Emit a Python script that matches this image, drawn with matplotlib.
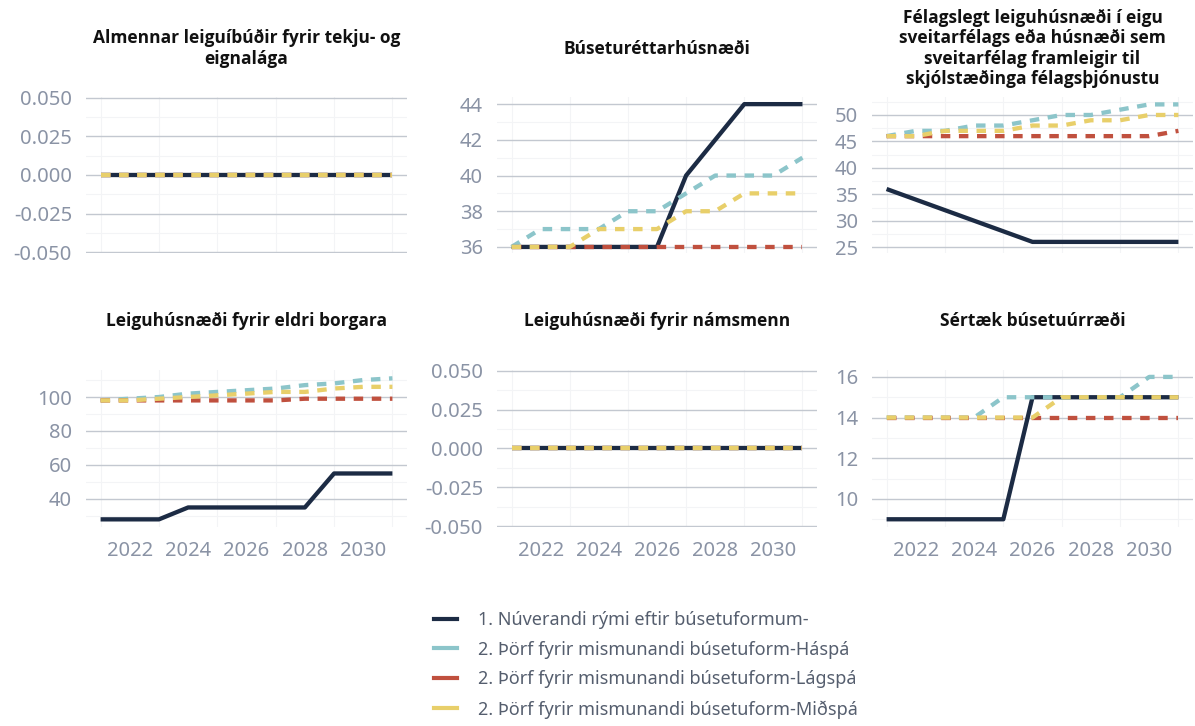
import matplotlib
matplotlib.use("Agg")
import matplotlib.pyplot as plt
from matplotlib.lines import Line2D
from matplotlib.ticker import AutoMinorLocator, FormatStrFormatter
import numpy as np

plt.rcParams['font.family'] = ['Noto Sans', 'DejaVu Sans']
plt.rcParams['axes.unicode_minus'] = False

years = [2021, 2022, 2023, 2024, 2025, 2026, 2027, 2028, 2029, 2030, 2031]

series_names = [
    "1. Núverandi rými eftir búsetuformum-",
    "2. Þörf fyrir mismunandi búsetuform-Háspá",
    "2. Þörf fyrir mismunandi búsetuform-Lágspá",
    "2. Þörf fyrir mismunandi búsetuform-Miðspá",
]

titles = [
    "Almennar leiguíbúðir fyrir tekju- og\neignalága",
    "Búseturéttarhúsnæði",
    "Félagslegt leiguhúsnæði í eigu\nsveitarfélags eða húsnæði sem\nsveitarfélag framleigir til\nskjólstæðinga félagsþjónustu",
    "Leiguhúsnæði fyrir eldri borgara",
    "Leiguhúsnæði fyrir námsmenn",
    "Sértæk búsetuúrræði",
]

# panel 1: Almennar leiguíbúðir
alm_nuv = [0, 0, 0, 0, 0, 0, 0, 0, 0, 0, 0]
alm_hasp = [0, 0, 0, 0, 0, 0, 0, 0, 0, 0, 0]
alm_lagsp = [0, 0, 0, 0, 0, 0, 0, 0, 0, 0, 0]
alm_midsp = [0, 0, 0, 0, 0, 0, 0, 0, 0, 0, 0]

# panel 2: Búseturéttarhúsnæði
bus_nuv = [36, 36, 36, 36, 36, 36, 40, 42, 44, 44, 44]
bus_hasp = [36, 37, 37, 37, 38, 38, 39, 40, 40, 40, 41]
bus_lagsp = [36, 36, 36, 36, 36, 36, 36, 36, 36, 36, 36]
bus_midsp = [36, 36, 36, 37, 37, 37, 38, 38, 39, 39, 39]

# panel 3: Félagslegt leiguhúsnæði
fel_nuv = [36, 34, 32, 30, 28, 26, 26, 26, 26, 26, 26]
fel_hasp = [46, 47, 47, 48, 48, 49, 50, 50, 51, 52, 52]
fel_lagsp = [46, 46, 46, 46, 46, 46, 46, 46, 46, 46, 47]
fel_midsp = [46, 46, 47, 47, 47, 48, 48, 49, 49, 50, 50]

# panel 4: eldri borgarar
eld_nuv = [28, 28, 28, 35, 35, 35, 35, 35, 55, 55, 55]
eld_hasp = [98, 99, 100, 102, 103, 104, 105, 107, 108, 110, 111]
eld_lagsp = [98, 98, 98, 98, 98, 98, 98, 99, 99, 99, 99]
eld_midsp = [98, 98, 99, 100, 101, 102, 103, 103, 105, 106, 106]

# panel 5: námsmenn
nam_nuv = [0, 0, 0, 0, 0, 0, 0, 0, 0, 0, 0]
nam_hasp = [0, 0, 0, 0, 0, 0, 0, 0, 0, 0, 0]
nam_lagsp = [0, 0, 0, 0, 0, 0, 0, 0, 0, 0, 0]
nam_midsp = [0, 0, 0, 0, 0, 0, 0, 0, 0, 0, 0]

# panel 6: Sértæk búsetuúrræði
ser_nuv = [9, 9, 9, 9, 9, 15, 15, 15, 15, 15, 15]
ser_hasp = [14, 14, 14, 14, 15, 15, 15, 15, 15, 16, 16]
ser_lagsp = [14, 14, 14, 14, 14, 14, 14, 14, 14, 14, 14]
ser_midsp = [14, 14, 14, 14, 14, 14, 15, 15, 15, 15, 15]

panels = [
    (alm_nuv, alm_hasp, alm_lagsp, alm_midsp),
    (bus_nuv, bus_hasp, bus_lagsp, bus_midsp),
    (fel_nuv, fel_hasp, fel_lagsp, fel_midsp),
    (eld_nuv, eld_hasp, eld_lagsp, eld_midsp),
    (nam_nuv, nam_hasp, nam_lagsp, nam_midsp),
    (ser_nuv, ser_hasp, ser_lagsp, ser_midsp),
]

yticks = [
    [-0.05, -0.025, 0, 0.025, 0.05],
    [36, 38, 40, 42, 44],
    [25, 30, 35, 40, 45, 50],
    [40, 60, 80, 100],
    [-0.05, -0.025, 0, 0.025, 0.05],
    [10, 12, 14, 16],
]
ylims = [
    (-0.0505, 0.0505),
    (35.66, 44.4),
    (23.9, 53.4),
    (23.5, 115.9),
    (-0.0505, 0.0505),
    (8.62, 16.34),
]

colors = ['#1c2b44', '#8cc5ca', '#c0503e', '#e8cf6a']
tick_color = '#8a93a5'
W, H = 1195, 726

fig = plt.figure(figsize=(W / 100, H / 100), dpi=100)

col_x = [(86, 321), (497, 320), (872, 321)]
row_y = [(97, 253), (370, 527)]

for i in range(6):
    r, c = divmod(i, 3)
    x0, w = col_x[c]
    top, bot = row_y[r]
    ax = fig.add_axes([x0 / W, 1 - bot / H, w / W, (bot - top) / H])

    nuv, hasp, lagsp, midsp = panels[i]
    ax.plot(years, nuv, color=colors[0], lw=3.1, solid_capstyle='butt', zorder=3)
    ax.plot(years, hasp, color=colors[1], lw=3.1, dashes=(2.2, 2.0), zorder=4)
    ax.plot(years, lagsp, color=colors[2], lw=3.1, dashes=(2.2, 2.0), zorder=5)
    ax.plot(years, midsp, color=colors[3], lw=3.1, dashes=(2.2, 2.0), zorder=6)

    ax.set_xlim(2020.5, 2031.5)
    ax.set_ylim(*ylims[i])
    ax.set_yticks(yticks[i])
    if i in (0, 4):
        ax.yaxis.set_major_formatter(FormatStrFormatter('%.3f'))
    ax.yaxis.set_minor_locator(AutoMinorLocator(2))
    ax.set_xticks([2022, 2024, 2026, 2028, 2030])
    ax.set_xticks([2021, 2023, 2025, 2027, 2029, 2031], minor=True)
    if r == 0:
        ax.set_xticklabels([])

    for s in ax.spines.values():
        s.set_visible(False)
    ax.tick_params(which='both', length=0)
    ax.tick_params(axis='y', pad=10, labelsize=14.5, labelcolor=tick_color)
    ax.tick_params(axis='x', pad=10, labelsize=14.5, labelcolor=tick_color)

    ax.grid(True, axis='y', which='major', color='#c3c8d0', lw=1.0, zorder=0)
    ax.grid(True, axis='y', which='minor', color='#f3f4f6', lw=0.8, zorder=0)
    ax.grid(True, axis='x', which='minor', color='#f3f4f6', lw=0.8, zorder=0)
    ax.set_axisbelow(True)

    ax.text(0.5, 1.31, titles[i], transform=ax.transAxes, ha='center', va='center',
            multialignment='center', fontsize=12.5, fontweight='bold', color='#111111',
            linespacing=1.17, family=['Open Sans', 'DejaVu Sans'])

handles = [Line2D([0], [0], color=col, lw=3) for col in colors]
fig.legend(handles, series_names, loc='upper left',
           bbox_to_anchor=(434 / W, 1 - 611 / H), frameon=False,
           fontsize=13, labelcolor='#555e6e', handlelength=1.3,
           handletextpad=1.15, labelspacing=0.65, borderpad=0, borderaxespad=0)

fig.savefig("out.png", dpi=100)
